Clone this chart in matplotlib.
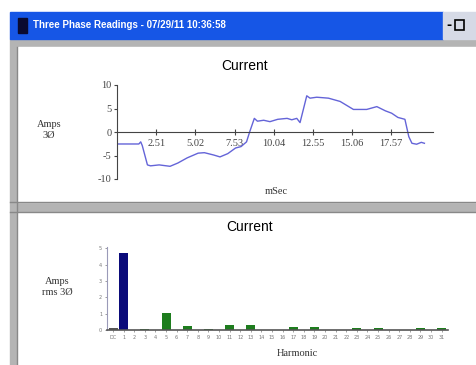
import numpy as np
import matplotlib
matplotlib.use("Agg")
import matplotlib.pyplot as plt
from matplotlib.patches import Rectangle

plt.rcParams["axes.unicode_minus"] = False

# Données : courant instantané (mSec, Amps)
t_ms = [0, 1.40, 1.52, 1.62, 1.95, 2.15, 2.7, 3.4, 3.9, 4.5, 5.2, 5.6, 6.2, 6.6, 7.1, 7.6,
        7.95, 8.3, 8.5, 8.8, 9.0, 9.4, 9.8, 10.3, 10.9, 11.2, 11.52, 11.73, 12.16, 12.37,
        12.8, 13.55, 14.3, 15.15, 16.0, 16.65, 17.2, 17.6, 18.0, 18.45, 18.7, 18.9, 19.2,
        19.5, 19.7]
amps = [-2.55, -2.55, -2.1, -2.9, -7.0, -7.2, -7.0, -7.3, -6.6, -5.5, -4.5, -4.4, -4.9, -5.3,
        -4.6, -3.4, -3.1, -2.1, 0.0, 2.9, 2.3, 2.5, 2.2, 2.7, 2.9, 2.6, 2.9, 2.0, 7.7, 7.2,
        7.4, 7.2, 6.5, 4.8, 4.8, 5.4, 4.5, 4.0, 3.1, 2.7, -1.0, -2.4, -2.6, -2.2, -2.4]
x_ticks = [2.51, 5.02, 7.53, 10.04, 12.55, 15.06, 17.57]
y_ticks = [-10, -5, 0, 5, 10]

# Données : harmoniques (Amps rms)
harm_labels = ["DC"] + [str(i) for i in range(1, 32)]
harm_values = [0.1, 4.73, 0, 0.08, 0, 1.02, 0, 0.24, 0, 0.08, 0, 0.33, 0, 0.29, 0, 0.03,
               0, 0.16, 0, 0.16, 0, 0.03, 0, 0.1, 0, 0.1, 0, 0.03, 0, 0.1, 0, 0.1]
harm_yticks = [0, 1, 2, 3, 4, 5]

W, H = 477, 365
fig = plt.figure(figsize=(W / 100, H / 100), dpi=100)


def box(x0, y0, x1, y1):
    # conversion pixels (origine en haut) -> coordonnées figure
    return [x0 / W, 1 - y1 / H, (x1 - x0) / W, (y1 - y0) / H]


# Fond : fenêtre Windows
bg = fig.add_axes([0, 0, 1, 1])
bg.set_xlim(0, W)
bg.set_ylim(H, 0)
bg.axis("off")
bg.add_patch(Rectangle((10, 39), W - 10, H - 39, color="#b4b4b4"))
bg.add_patch(Rectangle((10, 12), 433, 27, color="#1656e6"))
bg.add_patch(Rectangle((443, 12), 34, 27, color="#d6dae6"))
bg.add_patch(Rectangle((18, 18), 9, 15, color="#0a0a30"))
bg.add_patch(Rectangle((18, 47), W - 18, 155, color="white"))
bg.add_patch(Rectangle((18, 213), W - 18, H - 213, color="white"))
bg.plot([10, W], [202, 202], color="#888888", lw=1)
bg.plot([10, W], [212, 212], color="#888888", lw=1)
bg.plot([17, 17], [47, H], color="#888888", lw=1)
bg.text(33, 25.5, "Three Phase Readings - 07/29/11 10:36:58", color="white",
        fontsize=7, fontweight="bold", family="Liberation Sans", va="center")
bg.text(449, 25.5, "-", fontsize=9, fontweight="bold", va="center", ha="center")
bg.add_patch(Rectangle((455, 20), 9, 10, fill=False, ec="black", lw=1.2))

# Textes des graphiques
serif = "Liberation Serif"
bg.text(245, 66, "Current", fontsize=10, family="Liberation Sans", ha="center", va="center")
bg.text(49, 130, "Amps\n3Ø", fontsize=7.5, family=serif, ha="center", va="center",
        linespacing=1.3, color="#333333")
bg.text(276, 191, "mSec", fontsize=7.5, family=serif, ha="center", va="center", color="#333333")
bg.text(250, 227, "Current", fontsize=10, family="Liberation Sans", ha="center", va="center")
bg.text(57, 287, "Amps\nrms 3Ø", fontsize=7.5, family=serif, ha="center", va="center",
        linespacing=1.3, color="#333333")
bg.text(297, 353, "Harmonic", fontsize=7.5, family=serif, ha="center", va="center",
        color="#333333")

# Graphique 1 : forme d'onde du courant
ax1 = fig.add_axes(box(117, 85, 433, 179))
ax1.patch.set_alpha(0)
ax1.plot(t_ms, amps, color="#6464d8", lw=1)
ax1.set_xlim(0, 20.25)
ax1.set_ylim(-10, 10)
ax1.spines["bottom"].set_position(("data", 0))
ax1.spines["top"].set_visible(False)
ax1.spines["right"].set_visible(False)
for s in ["bottom", "left"]:
    ax1.spines[s].set_color("#444444")
    ax1.spines[s].set_linewidth(0.8)
ax1.set_xticks(x_ticks)
ax1.set_xticklabels([f"{v:.2f}" for v in x_ticks])
ax1.set_yticks(y_ticks)
ax1.tick_params(axis="x", direction="inout", length=4, width=0.8, pad=3,
                labelsize=7.5, colors="#444444")
ax1.tick_params(axis="y", direction="out", length=2, width=0.8, pad=2,
                labelsize=7.5, colors="#444444")
for lab in ax1.get_xticklabels() + ax1.get_yticklabels():
    lab.set_family(serif)

# Graphique 2 : spectre des harmoniques
ax2 = fig.add_axes(box(107, 247, 448, 330))
ax2.patch.set_alpha(0)
x = np.arange(len(harm_values))
colors = ["#555555", "#0b0b7a"] + ["#1e7d1e"] * (len(harm_values) - 2)
ax2.bar(x, harm_values, width=0.85, color=colors)
ax2.set_xlim(-0.57, 31.6)
ax2.set_ylim(0, 5.08)
ax2.spines["top"].set_visible(False)
ax2.spines["right"].set_visible(False)
ax2.spines["left"].set_color("#9a9ab8")
ax2.spines["bottom"].set_color("#555555")
ax2.spines["left"].set_linewidth(0.8)
ax2.spines["bottom"].set_linewidth(1.2)
ax2.set_xticks(x)
ax2.set_xticklabels(harm_labels)
ax2.set_yticks(harm_yticks)
ax2.tick_params(axis="both", length=1.5, width=0.5, pad=2, labelsize=3.5, colors="#777777")

plt.savefig("out.png", dpi=100)
